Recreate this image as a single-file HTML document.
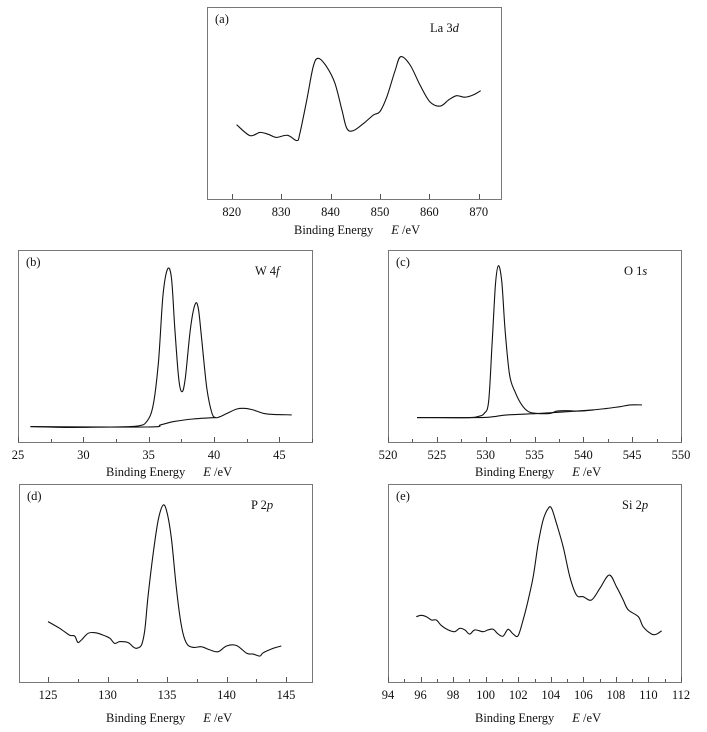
<!DOCTYPE html>
<html><head><meta charset="utf-8">
<style>
html,body{margin:0;padding:0;background:#fff;}
svg{display:block;font-family:"Liberation Serif",serif;}
</style></head>
<body>
<svg id="fig" width="707" height="732" viewBox="0 0 707 732"></svg>
<script>
// Panel (a) La 3d
const aEnergy=[821.0,823.7,825.7,827.4,829.0,831.3,833.2,833.8,835.2,836.5,837.5,839.2,840.9,842.3,843.3,844.6,846.7,848.7,850.0,851.4,853.1,854.2,856.1,858.1,860.1,862.2,863.9,865.5,867.2,868.9,870.4];
const aCounts=[38.7,33.0,34.7,33.7,32.1,33.2,30.4,34.2,51.6,68.9,73.3,68.9,60.2,46.4,36.8,35.6,39.4,43.8,45.5,53.3,67.2,74.1,69.8,59.4,50.7,48.4,51.6,53.8,53.0,54.2,56.4];
const aTicks=[820,830,840,850,860,870];
// Panel (b) W 4f
const bEnergy=[25.95,28.7,32.0,34.1,34.85,35.35,35.75,36.1,36.45,36.75,37.0,37.3,37.55,37.8,38.2,38.55,38.8,39.05,39.45,39.85,40.15,40.45,41.0,41.75,42.4,43.0,43.8,44.55,45.95];
const bCounts=[8.0,7.6,7.8,8.3,10.6,19.3,41.8,76.6,90.1,85.2,59.2,33.2,26.2,33.2,59.2,71.7,69.6,54.0,28.0,14.9,12.7,13.2,14.9,17.2,17.5,16.7,14.9,14.4,14.1];
const bBgEnergy=[25.95,34.85,35.9,36.9,38.4,40.15];
const bBgCounts=[8.0,7.8,8.9,10.6,12.0,12.7];
const bTicks=[25,30,35,40,45];
// Panel (c) O 1s
const cEnergy=[522.97,525.7,528.4,529.3,529.85,530.3,530.65,531.0,531.3,531.65,532.0,532.45,533.0,533.7,534.4,535.25,536.6,537.3,538.3,539.7,541.0,542.4,543.75,544.8,546.0];
const cCounts=[12.7,12.7,12.7,13.4,14.9,21.0,50.5,81.8,91.8,83.5,57.5,34.9,26.2,19.3,15.8,14.9,14.9,16.1,16.3,16.1,16.7,17.5,18.4,19.3,19.3];
const cBgEnergy=[522.97,529.1,530.8,532.2,535.25,537.6,541.0];
const cBgCounts=[12.7,12.7,13.2,14.1,14.8,15.5,16.7];
const cTicks=[520,525,530,535,540,545,550];
// Panel (d) P 2p
const dEnergy=[125.0,125.98,126.8,127.24,127.5,127.8,128.37,128.93,129.63,130.19,130.6,131.03,131.73,132.15,132.43,132.85,133.13,133.4,133.84,134.26,134.68,135.01,135.38,135.8,136.22,136.64,137.2,137.9,138.6,139.3,140.0,140.85,141.69,142.25,142.8,143.09,143.93,144.6];
const dCounts=[30.5,27.1,23.7,23.2,20.0,21.2,24.6,24.9,23.7,22.1,19.5,20.4,19.9,17.8,17.0,18.7,26.3,43.1,65.0,81.8,89.4,85.2,71.7,46.5,27.9,19.5,17.5,17.8,16.2,15.3,18.2,18.4,14.5,14.1,13.1,14.8,17.0,18.2];
const dTicks=[125,130,135,140,145];
// Panel (e) Si 2p
const eEnergy=[95.74,96.05,96.36,96.67,96.97,97.28,97.69,98.1,98.41,98.72,99.02,99.33,99.84,100.15,100.46,100.77,101.07,101.38,101.69,101.99,102.3,102.61,102.92,103.23,103.53,103.84,104.05,104.35,104.76,105.17,105.58,105.99,106.5,107.02,107.59,108.04,108.45,108.76,109.38,109.68,110.2,110.5,110.81];
const eCounts=[33.0,33.7,33.0,31.3,31.3,28.5,26.3,25.4,27.1,26.3,24.2,26.3,25.4,26.3,26.6,24.2,23.2,26.6,24.2,23.4,31.3,41.4,53.2,70.0,81.8,87.7,87.7,80.1,68.4,53.2,43.9,43.1,41.4,47.3,54.0,48.1,41.4,36.4,33.0,27.9,24.2,24.2,25.8];
const eTicks=[94,96,98,100,102,104,106,108,110,112];

const NS="http://www.w3.org/2000/svg";
const svg=document.getElementById('fig');
function mk(tag,attrs,parent){const e=document.createElementNS(NS,tag);for(const k in attrs)e.setAttribute(k,attrs[k]);(parent||svg).appendChild(e);return e;}

function smoothPath(P){
  let d='M'+P[0][0].toFixed(1)+' '+P[0][1].toFixed(1);
  for(let i=0;i<P.length-1;i++){
    const p0=P[Math.max(0,i-1)],p1=P[i],p2=P[i+1],p3=P[Math.min(P.length-1,i+2)];
    const c1x=p1[0]+(p2[0]-p0[0])/6,c1y=p1[1]+(p2[1]-p0[1])/6;
    const c2x=p2[0]-(p3[0]-p1[0])/6,c2y=p2[1]-(p3[1]-p1[1])/6;
    d+=' C'+c1x.toFixed(1)+' '+c1y.toFixed(1)+' '+c2x.toFixed(1)+' '+c2y.toFixed(1)+' '+p2[0].toFixed(1)+' '+p2[1].toFixed(1);
  }
  return d;
}

function panel(o){
  const g=mk('g',{});
  
  
  const L=o.box[0],T=o.box[1],R=o.box[2],B=o.box[3];
  const sx=v=>L+(v-o.xmin)/(o.xmax-o.xmin)*(R-L);
  const sy=v=>B-v/100*(B-T);
  const frame=mk('rect',{x:L+0.5,y:T+0.5,width:R-L,height:B-T,fill:'none',stroke:'#777','stroke-width':1},g);
  
  
  const start=Math.ceil(o.xmin/o.minor-1e-9)*o.minor;
  for(let v=start;v<=o.xmax+1e-9;v+=o.minor){
    const x=Math.round(sx(v))+0.5;
    const isMajor=o.ticks.some(t=>Math.abs(t-v)<1e-6);
    const t=mk('line',{x1:x,x2:x,y1:B,y2:B-(isMajor?5:3),stroke:'#555','stroke-width':1},g);
    
    
  }
  o.ticks.forEach(v=>{
    const t=mk('text',{x:sx(v),y:B+17,'text-anchor':'middle','font-size':12.5,fill:'#111'},g);
    t.textContent=v;
    
    
  });
  const title=mk('text',{x:o.titleX,y:o.titleY,'font-size':12.5,fill:'#111'},g);
  
  
  const t1=mk('tspan',{},title);t1.textContent='Binding Energy';
  const t2=mk('tspan',{dx:18,'font-style':'italic'},title);t2.textContent='E';
  const t3=mk('tspan',{},title);t3.textContent=' /eV';
  const lab=mk('text',{x:L+8,y:T+16,'font-size':12.5,fill:'#111'},g);
  lab.textContent='('+o.id+')';
  
  
  const el=mk('text',{x:o.elX,y:T+25,'font-size':12.5,fill:'#111'},g);
  
  
  const e1=mk('tspan',{},el);e1.textContent=o.el[0]+' ';
  const e2=mk('tspan',{},el);e2.textContent=o.el[1];
  const e3=mk('tspan',{'font-style':'italic'},el);e3.textContent=o.el[2];
  function line(xs,ys,name){
    const P=xs.map((x,i)=>[sx(x),sy(ys[i])]);
    const p=mk('path',{d:smoothPath(P),fill:'none',stroke:'#111','stroke-width':1.1,'stroke-linejoin':'round'},g);
    
    
  }
  if(o.bx)line(o.bx,o.by,'background-line-'+o.id);
  line(o.x,o.y,'spectrum-line-'+o.id);
}
panel({id:'a',box:[207,7,501,199],xmin:815,xmax:874.5,ticks:aTicks,minor:10,x:aEnergy,y:aCounts,titleX:294,titleY:234,elX:430,el:['La','3','d']});
panel({id:'b',box:[18,250,312,442],xmin:25,xmax:47.5,ticks:bTicks,minor:2.5,x:bEnergy,y:bCounts,bx:bBgEnergy,by:bBgCounts,titleX:106,titleY:476,elX:255,el:['W','4','f']});
panel({id:'c',box:[388,250,681,442],xmin:520,xmax:550,ticks:cTicks,minor:2.5,x:cEnergy,y:cCounts,bx:cBgEnergy,by:cBgCounts,titleX:475,titleY:476,elX:624,el:['O','1','s']});
panel({id:'d',box:[19,484,312,682],xmin:122.56,xmax:147.18,ticks:dTicks,minor:2.5,x:dEnergy,y:dCounts,titleX:106,titleY:722,elX:251,el:['P','2','p']});
panel({id:'e',box:[388,484,681,682],xmin:94,xmax:112,ticks:eTicks,minor:1,x:eEnergy,y:eCounts,titleX:475,titleY:722,elX:622,el:['Si','2','p']});
</script>
</body></html>
